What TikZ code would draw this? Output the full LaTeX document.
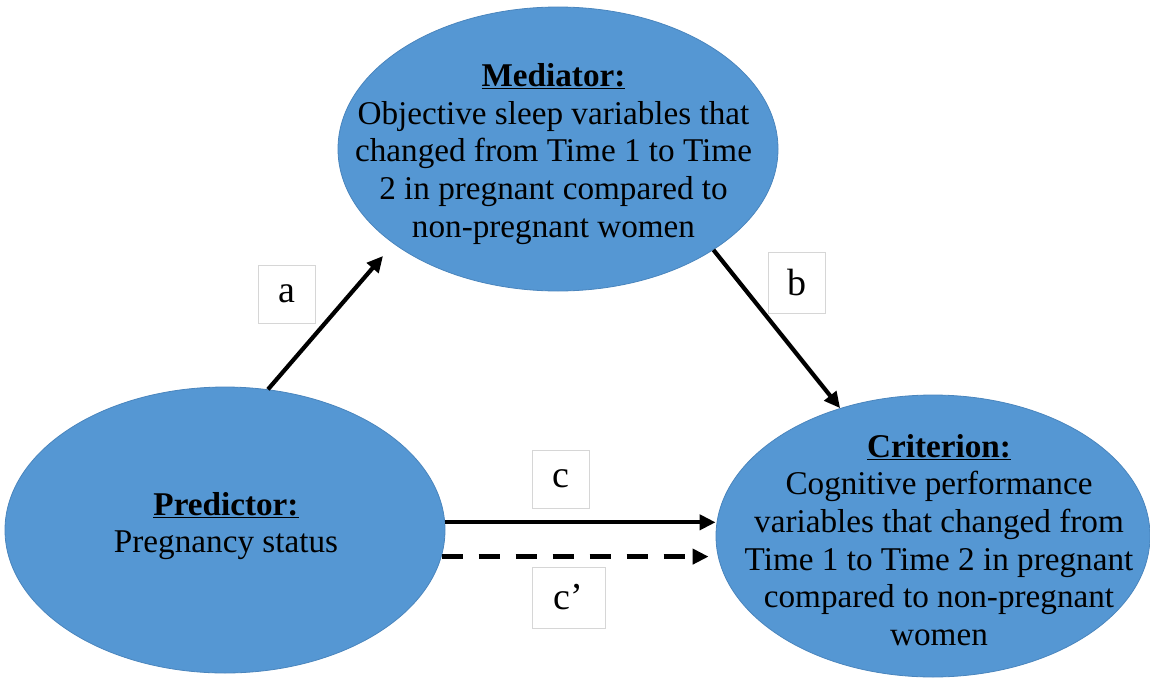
\documentclass[tikz,border=0pt]{standalone}
\usepackage{fontspec}
\setmainfont{Liberation Serif}
\usetikzlibrary{shapes.geometric,arrows.meta}
\definecolor{ellfill}{HTML}{5597D3}
\definecolor{elldraw}{HTML}{4A85BD}
\definecolor{boxdraw}{HTML}{D6D6D6}
\tikzset{
  ell/.style={ellipse, fill=ellfill, draw=elldraw, line width=0.8pt, inner sep=0pt},
  etext/.style={align=center, inner sep=0pt, font=\fontsize{33.2}{37.6}\selectfont},
  lbl/.style={draw=boxdraw, fill=white, line width=0.8pt, inner sep=0pt, font=\fontsize{38}{40}\selectfont},
  arr/.style={line width=4.2pt, -{Triangle[length=16pt,width=15pt]}},
}
\begin{document}
\begin{tikzpicture}[x=1pt,y=-1pt]
\useasboundingbox (0,0) rectangle (1150,677);
% ellipses
\node[ell, minimum width=440pt, minimum height=284pt] (med) at (558,149) {};
\node[ell, minimum width=440pt, minimum height=286pt] (pred) at (225,530) {};
\node[ell, minimum width=434pt, minimum height=282pt] (crit) at (933,536) {};
% texts
\node[etext] (medt) at (553.5,154) {\underline{\textbf{Mediator:}}\\Objective sleep variables that\\changed from Time 1 to Time\\2 in pregnant compared to\\non-pregnant women};
\node[etext] (predt) at (226,526) {\underline{\textbf{Predictor:}}\\Pregnancy status};
\node[etext] (critt) at (939,540) {\underline{\textbf{Criterion:}}\\Cognitive performance\\variables that changed from\\Time 1 to Time 2 in pregnant\\compared to non-pregnant\\women};
% labels
\node[lbl, minimum width=57pt, minimum height=58pt] (la) at (286.5,294) {a};
\node[lbl, minimum width=57pt, minimum height=61pt] (lb) at (796.5,282.5) {b};
\node[lbl, minimum width=57pt, minimum height=58pt] (lc) at (561,479) {c};
\node[lbl, minimum width=73pt, minimum height=61pt] (lcp) at (568.5,597.5) {c’};
% arrows
\coordinate (aend) at (383,256);
\draw[arr] (pred.73.6) -- (aend);
\draw[arr] (med.-33.4) -- (crit.126.8);
\draw[arr] (pred.2.6) -- (pred.2.6 -| crit.west);
\coordinate (cpend) at ([xshift=-7pt]crit.west |- pred.-7.4);
\draw[arr, dash pattern=on 21pt off 16pt] (pred.-7.4) -- (cpend);
\end{tikzpicture}
\end{document}
